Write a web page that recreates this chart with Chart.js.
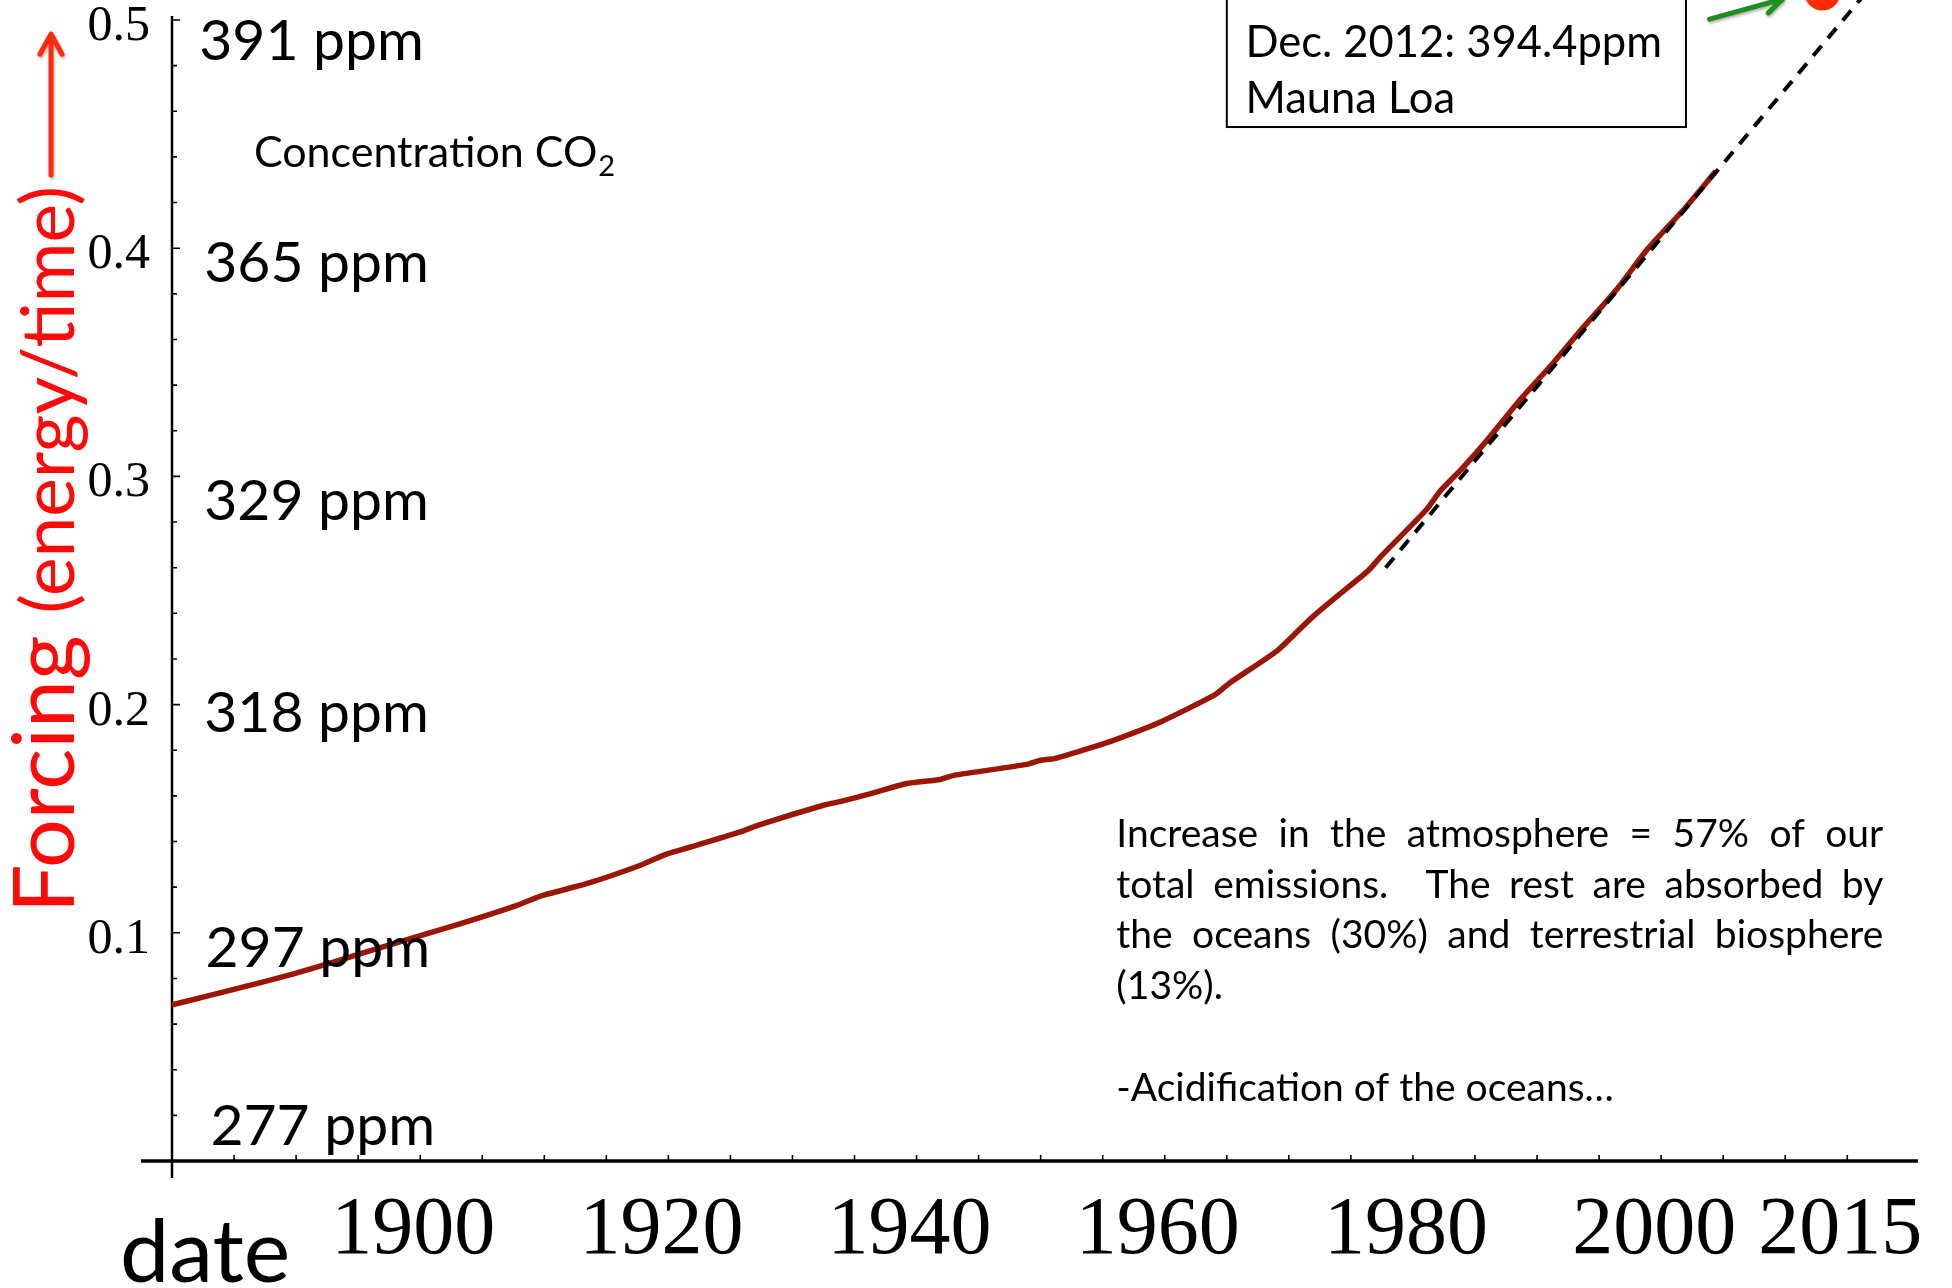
<!DOCTYPE html>
<html>
<head>
<meta charset="utf-8">
<script src="https://cdn.jsdelivr.net/npm/chart.js@4.4.1/dist/chart.umd.min.js"></script>
<style>
  html, body { margin: 0; padding: 0; background: #ffffff; }
  #wrap { width: 1952px; height: 1288px; }
</style>
</head>
<body>
<div id="wrap"><canvas id="c" width="1952" height="1288"></canvas></div>
<script>
// CO2 radiative forcing since 1880
const years = [1880.0, 1882.5, 1885.7, 1889.8, 1893.0, 1897.8, 1903.2, 1907.8, 1909.7, 1913.4,
               1917.7, 1919.9, 1921.8, 1925.8, 1927.2, 1932.5, 1933.9, 1936.6, 1939.2, 1941.9,
               1943.0, 1948.9, 1950.0, 1951.1, 1954.0, 1956.2, 1959.7, 1964.1, 1965.2, 1969.1,
               1971.8, 1974.0, 1976.4, 1977.5, 1981.1, 1982.2, 1983.8, 1986.0, 1988.6, 1991.3,
               1993.5, 1996.5, 1998.9, 2001.9, 2004.4];
const forcing = [0.0684, 0.0718, 0.0762, 0.0820, 0.0871, 0.0952, 0.1039, 0.1120, 0.1161, 0.1215,
                 0.1295, 0.1346, 0.1376, 0.1442, 0.1471, 0.1559, 0.1576, 0.1614, 0.1654, 0.1672,
                 0.1690, 0.1738, 0.1756, 0.1763, 0.1810, 0.1850, 0.1925, 0.2045, 0.2094, 0.2238,
                 0.2379, 0.2480, 0.2587, 0.2654, 0.2855, 0.2936, 0.3025, 0.3160, 0.3334, 0.3497,
                 0.3639, 0.3825, 0.3996, 0.4174, 0.4337];

// straight-line trend of the recent decades
const trendYears = [1977.8, 2017.0];
const trendForcing = [0.260, 0.5152];

// latest monthly reading at Mauna Loa
const latestYears = [2013.0];
const latestForcing = [0.512];

// axis labels
const xLabelYears = [1900, 1920, 1940, 1960, 1980, 2000, 2015];
const xLabels = ['1900', '1920', '1940', '1960', '1980', '2000', '2015'];
const yLabelValues = [0.1, 0.2, 0.3, 0.4, 0.5];
const yLabels = ['0.1', '0.2', '0.3', '0.4', '0.5'];

// concentration equivalents written along the forcing axis
const ppmTexts = ['391 ppm', '365 ppm', '329 ppm', '318 ppm', '297 ppm', '277 ppm'];

// where the annotations sit, in data units (year, forcing)
const ppmAnchors = [[1882.2, 0.4825], [1882.6, 0.3852], [1882.6, 0.2809],
                    [1882.6, 0.1880], [1882.7, 0.0850], [1883.1, 0.0070]];
const concAnchor = [1886.6, 0.4356];
const boxLayout = { left: 1965.0, right: 2002.0, bottom: 0.4531, top: 0.53,
                    textX: 1966.5, lines: [0.4838, 0.4592] };
const greenArrow = { from: [2003.9, 0.5004], to: [2009.8, 0.5092] };
const noteLayout = { left: 1956.1, right: 2017.9, firstBaseline: 0.1376, step: 0.02222 };
const noteLines = ['Increase in the atmosphere = 57% of our',
                   'total emissions.  The rest are absorbed by',
                   'the oceans (30%) and terrestrial biosphere',
                   '(13%).',
                   '',
                   '-Acidification of the oceans\u2026'];
const noteJustify = [true, true, true, false, false, false];

const SANS = 'Lato, "Open Sans", sans-serif';
const SERIF = '"Liberation Serif", "Times New Roman", serif';

function arrow(ctx, x1, y1, x2, y2, head, spread) {
  const a = Math.atan2(y2 - y1, x2 - x1);
  ctx.beginPath();
  ctx.moveTo(x1, y1);
  ctx.lineTo(x2, y2);
  ctx.moveTo(x2 - head * Math.cos(a - spread), y2 - head * Math.sin(a - spread));
  ctx.lineTo(x2, y2);
  ctx.lineTo(x2 - head * Math.cos(a + spread), y2 - head * Math.sin(a + spread));
  ctx.stroke();
}

// Axes drawn crossing at the origin, ticks pointing into the plot
const crossAxes = {
  id: 'crossAxes',
  beforeDatasetsDraw(chart) {
    const { ctx, scales: { x, y } } = chart;
    const x0 = x.getPixelForValue(x.min);
    const y0 = y.getPixelForValue(0);
    ctx.save();
    ctx.strokeStyle = '#000';
    ctx.lineCap = 'butt';
    ctx.lineWidth = 3.5;
    ctx.beginPath();
    ctx.moveTo(x0 - 31, y0);
    ctx.lineTo(x.right, y0);
    ctx.stroke();
    ctx.lineWidth = 2.5;
    ctx.beginPath();
    ctx.moveTo(x0, y.top - 4);
    ctx.lineTo(x0, y0 + 17);
    ctx.stroke();
    ctx.lineWidth = 1.6;
    ctx.beginPath();
    for (let yr = 1885; yr <= 2015; yr += 5) {
      const px = x.getPixelForValue(yr);
      ctx.moveTo(px, y0);
      ctx.lineTo(px, y0 - 6);
    }
    for (let k = 1; k <= 25; k++) {
      const py = y.getPixelForValue(k * 0.02);
      ctx.moveTo(x0, py);
      ctx.lineTo(x0 + (k % 5 === 0 ? 8 : 5), py);
    }
    ctx.stroke();
    ctx.restore();
  },
  afterDraw(chart) {
    const { ctx, scales: { x, y } } = chart;
    const x0 = x.getPixelForValue(x.min);
    const y0 = y.getPixelForValue(0);
    ctx.save();
    ctx.fillStyle = '#000';

    // x tick labels
    ctx.font = '82px ' + SERIF;
    ctx.textAlign = 'center';
    ctx.textBaseline = 'alphabetic';
    xLabelYears.forEach((yr, i) => {
      ctx.fillText(xLabels[i], x.getPixelForValue(yr) - 7, y0 + 92);
    });

    // y tick labels
    ctx.font = '50px ' + SERIF;
    ctx.textAlign = 'right';
    yLabelValues.forEach((v, i) => {
      ctx.fillText(yLabels[i], x0 - 22, y.getPixelForValue(v) + 20);
    });

    // x axis name
    ctx.font = '88px ' + SANS;
    ctx.textAlign = 'left';
    ctx.fillText('date', x0 - 52, y0 + 121);

    // y axis name, rotated, with an arrow above it
    ctx.save();
    ctx.translate(x0 - 98, y0 - 248);
    ctx.rotate(-Math.PI / 2);
    ctx.fillStyle = '#ff0a0a';
    ctx.textAlign = 'left';
    ctx.font = '86px ' + SANS;
    ctx.fillText('Forcing', 0, 0);
    const w1 = ctx.measureText('Forcing ').width;
    ctx.font = '73px ' + SANS;
    ctx.fillText('(energy/time)', w1, 0);
    ctx.restore();

    ctx.save();
    ctx.strokeStyle = '#ff2a0d';
    ctx.lineWidth = 5;
    ctx.lineCap = 'round';
    ctx.lineJoin = 'round';
    ctx.shadowColor = 'rgba(0,0,0,0.3)';
    ctx.shadowBlur = 3;
    ctx.shadowOffsetX = 1;
    ctx.shadowOffsetY = 2;
    arrow(ctx, x0 - 121, y.top + 155, x0 - 121, y.top + 14, 23, 0.5);
    ctx.restore();

    // concentration labels
    ctx.font = '57px ' + SANS;
    ctx.textAlign = 'left';
    ppmTexts.forEach((t, i) => {
      ctx.fillText(t, x.getPixelForValue(ppmAnchors[i][0]), y.getPixelForValue(ppmAnchors[i][1]));
    });
    const cx = x.getPixelForValue(concAnchor[0]);
    const cy = y.getPixelForValue(concAnchor[1]);
    ctx.font = '43px ' + SANS;
    ctx.fillText('Concentration CO', cx, cy);
    const cw = ctx.measureText('Concentration CO').width;
    ctx.font = '29px ' + SANS;
    ctx.fillText('2', cx + cw + 1, cy + 9);

    // Mauna Loa box
    const bl = x.getPixelForValue(boxLayout.left);
    const br = x.getPixelForValue(boxLayout.right);
    const bt = y.getPixelForValue(boxLayout.top);
    const bb = y.getPixelForValue(boxLayout.bottom);
    ctx.strokeStyle = '#000';
    ctx.lineWidth = 2;
    ctx.strokeRect(bl, bt, br - bl, bb - bt);
    ctx.font = '43.5px ' + SANS;
    ctx.fillText('Dec. 2012: 394.4ppm', x.getPixelForValue(boxLayout.textX), y.getPixelForValue(boxLayout.lines[0]));
    ctx.fillText('Mauna Loa', x.getPixelForValue(boxLayout.textX), y.getPixelForValue(boxLayout.lines[1]));

    // green pointer to the latest reading
    ctx.save();
    ctx.strokeStyle = '#1f8f1f';
    ctx.lineWidth = 5;
    ctx.lineCap = 'round';
    ctx.lineJoin = 'round';
    ctx.shadowColor = 'rgba(0,0,0,0.3)';
    ctx.shadowBlur = 3;
    ctx.shadowOffsetX = 1;
    ctx.shadowOffsetY = 2;
    arrow(ctx, x.getPixelForValue(greenArrow.from[0]), y.getPixelForValue(greenArrow.from[1]),
          x.getPixelForValue(greenArrow.to[0]), y.getPixelForValue(greenArrow.to[1]), 20, 0.5);
    ctx.restore();

    // latest reading marker
    ctx.fillStyle = '#ff2a00';
    latestYears.forEach((yr, i) => {
      ctx.beginPath();
      ctx.arc(x.getPixelForValue(yr), y.getPixelForValue(latestForcing[i]), 18, 0, Math.PI * 2);
      ctx.fill();
    });

    // justified note
    ctx.fillStyle = '#000';
    ctx.font = '39px ' + SANS;
    const nl = x.getPixelForValue(noteLayout.left);
    const nr = x.getPixelForValue(noteLayout.right);
    noteLines.forEach((line, i) => {
      const by = y.getPixelForValue(noteLayout.firstBaseline - i * noteLayout.step);
      if (!line) return;
      if (!noteJustify[i]) { ctx.fillText(line, nl, by); return; }
      const words = line.split(' ');
      const widths = words.map(w => ctx.measureText(w).width);
      const total = widths.reduce((a, b) => a + b, 0);
      const gap = (nr - nl - total) / (words.length - 1);
      let px = nl;
      words.forEach((w, j) => { if (w) ctx.fillText(w, px, by); px += widths[j] + gap; });
    });
    ctx.restore();
  }
};

const xy = (xs, ys) => xs.map((v, i) => ({ x: v, y: ys[i] }));

new Chart(document.getElementById('c'), {
  type: 'line',
  data: {
    datasets: [
      {
        label: 'Linear trend',
        data: xy(trendYears, trendForcing),
        borderColor: '#000',
        borderWidth: 4,
        borderDash: [13, 10],
        pointRadius: 0,
        fill: false,
        clip: false,
        order: 0
      },
      {
        label: 'CO2 forcing',
        data: xy(years, forcing),
        borderColor: '#9c1606',
        borderWidth: 5.5,
        pointRadius: 0,
        tension: 0.2,
        fill: false,
        order: 1
      }
    ]
  },
  options: {
    responsive: false,
    animation: false,
    devicePixelRatio: 1,
    events: [],
    layout: { padding: { left: 172, right: 34, top: 20, bottom: 127 } },
    plugins: { legend: { display: false }, tooltip: { enabled: false }, title: { display: false } },
    scales: {
      x: { type: 'linear', min: 1880, max: 2020.7, display: false },
      y: { type: 'linear', min: 0, max: 0.5, display: false }
    }
  },
  plugins: [crossAxes]
});
</script>
</body>
</html>
